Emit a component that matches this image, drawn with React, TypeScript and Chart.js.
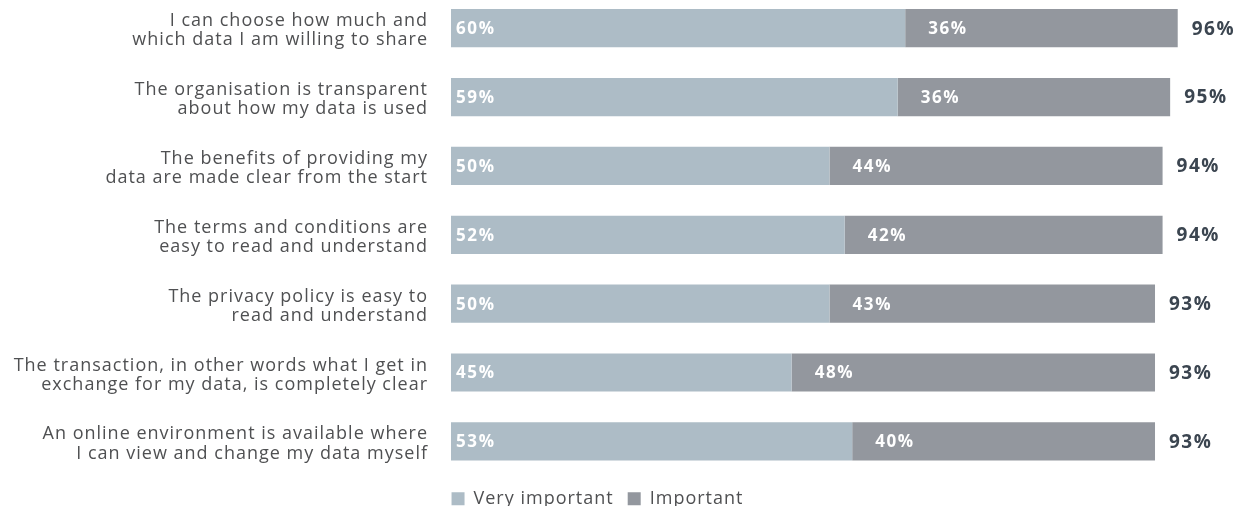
import React, { useEffect, useRef } from 'react';
import { Chart, registerables } from 'chart.js';

Chart.register(...registerables);

const categories: string[][] = [
  ['I can choose how much and', 'which data I am willing to share'],
  ['The organisation is transparent', 'about how my data is used'],
  ['The benefits of providing my', 'data are made clear from the start'],
  ['The terms and conditions are', 'easy to read and understand'],
  ['The privacy policy is easy to', 'read and understand'],
  ['The transaction, in other words what I get in', 'exchange for my data, is completely clear'],
  ['An online environment is available where', 'I can view and change my data myself'],
];
const veryImportant = [60, 59, 50, 52, 50, 45, 53];
const important = [36, 36, 44, 42, 43, 48, 40];
const totals = [96, 95, 94, 94, 93, 93, 93];
const seriesNames = ['Very important', 'Important'];

const FONT = '"Open Sans", sans-serif';
const LIGHT = '#adbcc6';
const DARK = '#93979e';
const TEXT = '#4f5052';

const spacingPlugin = {
  id: 'spacing',
  beforeInit(chart: any) {
    (chart.ctx as any).letterSpacing = '1px';
  },
  beforeDraw(chart: any) {
    (chart.ctx as any).letterSpacing = '1px';
  },
};

const labelPlugin = {
  id: 'barLabels',
  afterDatasetsDraw(chart: any) {
    const ctx = chart.ctx;
    ctx.save();
    ctx.textBaseline = 'middle';
    ctx.textAlign = 'left';
    const offsets = [5, 23];
    (ctx as any).letterSpacing = '1.6px';
    chart.data.datasets.forEach((ds: any, di: number) => {
      const meta = chart.getDatasetMeta(di);
      ctx.font = `bold 17px ${FONT}`;
      ctx.fillStyle = '#ffffff';
      meta.data.forEach((bar: any, i: number) => {
        const start = Math.min(bar.base, bar.x);
        ctx.fillText(`${ds.data[i]}%`, start + offsets[di], bar.y + 1);
      });
    });
    const last = chart.getDatasetMeta(chart.data.datasets.length - 1);
    (ctx as any).letterSpacing = '1.5px';
    ctx.font = `bold 19px ${FONT}`;
    ctx.fillStyle = '#3b4550';
    last.data.forEach((bar: any, i: number) => {
      ctx.fillText(`${totals[i]}%`, Math.max(bar.x, bar.base) + 14, bar.y + 1);
    });
    ctx.restore();
  },
};

export default function App() {
  const ref = useRef<HTMLCanvasElement | null>(null);
  useEffect(() => {
    if (!ref.current) return;
    const chart = new Chart(ref.current, {
      type: 'bar',
      data: {
        labels: categories,
        datasets: [
          { label: seriesNames[0], data: veryImportant, backgroundColor: LIGHT, barPercentage: 0.555, categoryPercentage: 1 },
          { label: seriesNames[1], data: important, backgroundColor: DARK, barPercentage: 0.555, categoryPercentage: 1 },
        ],
      },
      options: {
        indexAxis: 'y',
        animation: false,
        responsive: true,
        maintainAspectRatio: false,
        layout: { padding: { top: 13.8, bottom: 8.2, left: -36, right: 35 } },
        scales: {
          x: { stacked: true, min: 0, max: 100, display: false },
          y: {
            stacked: true,
            grid: { display: false },
            border: { display: false },
            afterFit: (scale: any) => {
              scale.width = 487;
              scale.paddingTop = 0;
              scale.paddingBottom = 0;
            },
            ticks: {
              padding: 15,
              labelOffset: 2.5,
              color: TEXT,
              font: { family: FONT, size: 18, lineHeight: 1.07 },
            },
          },
        },
        plugins: {
          legend: {
            position: 'bottom',
            labels: {
              boxWidth: 13,
              boxHeight: 13,
              padding: 14,
              color: TEXT,
              font: { family: FONT, size: 18 },
            },
          },
          tooltip: { enabled: false },
        },
      },
      plugins: [spacingPlugin, labelPlugin],
    });
    return () => chart.destroy();
  }, []);

  return (
    <div style={{ position: 'fixed', left: 0, top: 0, width: 1243, height: 506, overflow: 'hidden', background: '#fff' }}>
      <div style={{ position: 'absolute', left: 0, top: -20, width: 1243, height: 546 }}>
        <canvas ref={ref} />
      </div>
    </div>
  );
}
